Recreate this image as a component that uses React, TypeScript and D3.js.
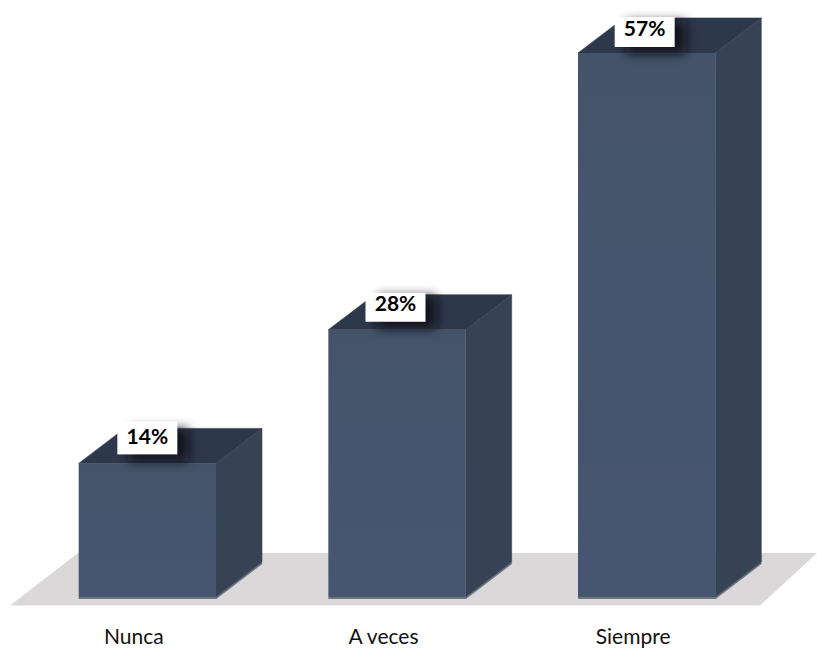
import React from "react";
import * as d3 from "d3";

const categories = ["Nunca", "A veces", "Siempre"];
const percentages = [14, 28, 57];

const width = 817;
const height = 648;
const baseY = 597;
const depthX = 46;
const depthY = 35;
const sans = "Lato, 'Open Sans', sans-serif";

// Value tags sit at slightly different spots above each column.
const tagShiftX = [0, -1.5, -2];
const tagTop = [-42, -37, -36];
const tagBottom = [-9, -8, -6];
const tagBaseline = [-19, -19, -17];

const x = d3.scaleBand<string>().domain(categories).range([22.5, 771.5]).paddingInner(0.45).paddingOuter(0.225);
const y = d3.scaleLinear().domain([0, 57]).range([baseY, 53]);

const poly = d3.line();

export default function App() {
  return (
    <svg
      width={width}
      height={height}
      viewBox={`0 0 ${width} ${height}`}
      style={{ position: "absolute", left: 0, top: 0, background: "#fff" }}
    >
      <defs>
        <linearGradient id="frontFace" x1="0" y1="0" x2="0" y2="1">
          <stop offset="0" stopColor="#44536b" />
          <stop offset="1" stopColor="#46566f" />
        </linearGradient>
        <filter id="labelShadow" x="-40%" y="-60%" width="180%" height="220%">
          <feGaussianBlur stdDeviation="5.5" />
        </filter>
        <filter id="soften" x="-5%" y="-5%" width="110%" height="110%">
          <feGaussianBlur stdDeviation="0.6" />
        </filter>
      </defs>

      {/* floor plane under the columns */}
      <path
        d={poly([[10, 605.5], [760, 605.5], [817, 553], [78, 553]]) + "Z"}
        fill="#dbd8d9"
      />

      {categories.map((name, i) => {
        const x0 = x(name)!;
        const x1 = x0 + x.bandwidth();
        const mid = (x0 + x1) / 2;
        const top = y(percentages[i]);
        const labelX = mid + tagShiftX[i];
        const boxTop = top + tagTop[i];
        const boxBottom = top + tagBottom[i];
        return (
          <g key={name}>
            {/* contact shadow along the base */}
            <path
              d={poly([[x0, baseY + 1], [x1, baseY + 1], [x1 + depthX, baseY - depthY + 1]]) ?? ""}
              fill="none"
              stroke="#6f7480"
              strokeWidth={2}
              filter="url(#soften)"
            />
            <g filter="url(#soften)">
              <path
                d={poly([[x0, top], [x0 + depthX, top - depthY], [x1 + depthX, top - depthY], [x1, top]]) + "Z"}
                fill="#2e384c"
                stroke="#2e384c"
                strokeWidth={0.6}
              />
              <path
                d={poly([[x1, top], [x1 + depthX, top - depthY], [x1 + depthX, baseY - depthY], [x1, baseY]]) + "Z"}
                fill="#374355"
                stroke="#374355"
                strokeWidth={0.6}
              />
              <rect x={x0} y={top} width={x.bandwidth()} height={baseY - top} fill="url(#frontFace)" />
            </g>
            {/* value tag with its soft drop shadow */}
            <rect
              x={labelX - 19}
              y={boxBottom - 26}
              width={60}
              height={33}
              fill="#0c0e17"
              opacity={0.85}
              filter="url(#labelShadow)"
            />
            <rect x={labelX - 30} y={boxTop} width={60} height={boxBottom - boxTop} fill="#fff" />
            <text
              x={labelX}
              y={top + tagBaseline[i]}
              textAnchor="middle"
              fontFamily={sans}
              fontWeight={700}
              fontSize={21}
              fill="#000"
            >
              {percentages[i]}%
            </text>
            <text
              x={mid - 13.5}
              y={643.5}
              textAnchor="middle"
              fontFamily={sans}
              fontSize={21}
              fill="#111"
            >
              {name}
            </text>
          </g>
        );
      })}
    </svg>
  );
}
